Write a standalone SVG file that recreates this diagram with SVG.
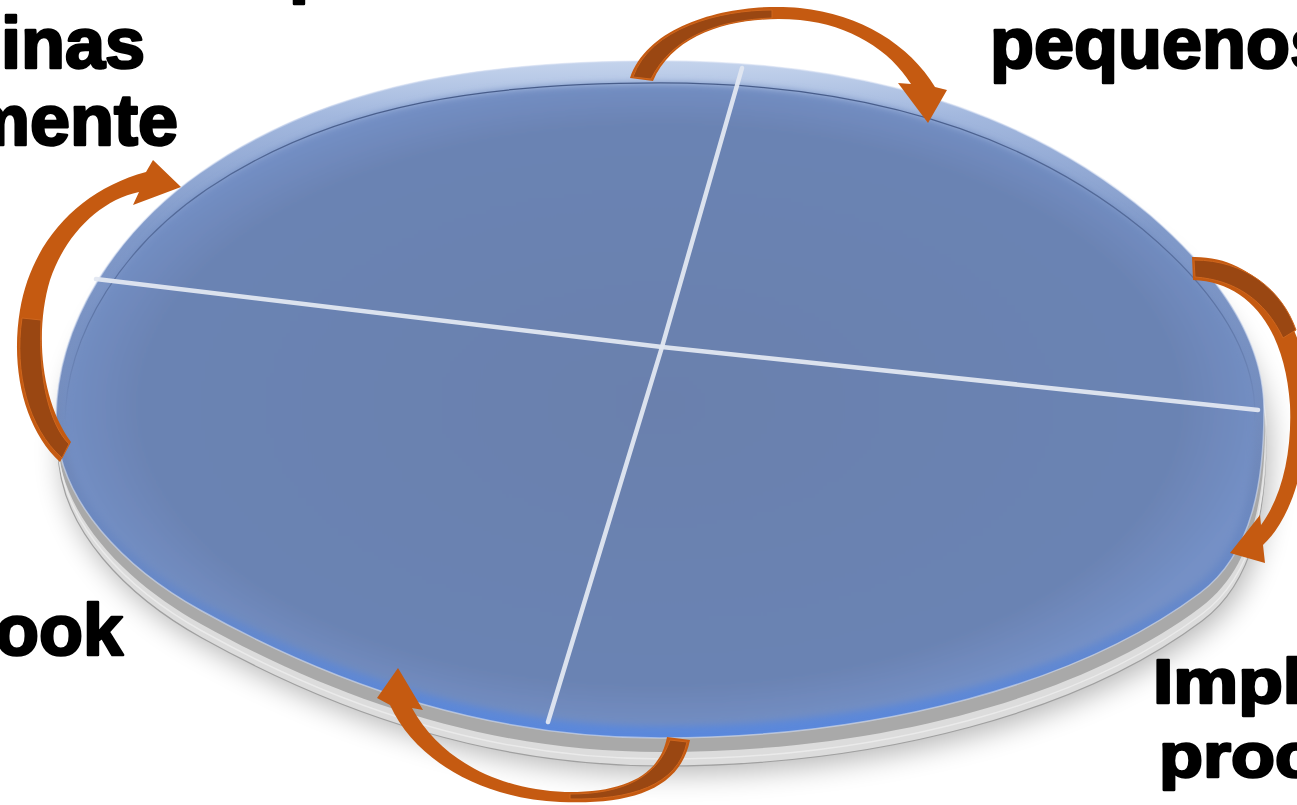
<svg xmlns="http://www.w3.org/2000/svg" width="1297" height="805" viewBox="0 0 1297 805">
<defs>
<style>
.lbl{font-family:"Liberation Sans",Arial,sans-serif;font-weight:bold;font-size:72px;fill:#000;stroke:#000;stroke-width:2.6px;stroke-linejoin:round}
.sm{font-size:63px}
.arr{fill:#c55a11}
.dark{fill:#9a4712;stroke:#cf661d;stroke-width:1}
.cross{fill:none;stroke:#e1e7f1;stroke-width:4.5;stroke-linecap:round;stroke-linejoin:round;opacity:.95}
</style>
<path id="disk" d="M660,61 C838,61 1014,100 1150,215 C1209,266 1264,332 1264,410 C1264,477 1254,553 1200,593 C1080,683 880,738 660,738 C495,738 344,690 200,610 C128,570 56,502 56,420 C56,321 119,230 200,173 C334,79 496,61 660,61 Z"/>
<clipPath id="clipDisk"><use href="#disk"/></clipPath>
<linearGradient id="edgeG" gradientUnits="userSpaceOnUse" x1="0" y1="61" x2="0" y2="740">
<stop offset="0" stop-color="#c4d3ec"/>
<stop offset="0.08" stop-color="#a3b8de"/>
<stop offset="0.25" stop-color="#8099c9"/>
<stop offset="0.6" stop-color="#6f88ba"/>
<stop offset="1" stop-color="#5a88dc"/>
</linearGradient>
<radialGradient id="topG" gradientUnits="userSpaceOnUse" cx="660" cy="400" r="620" gradientTransform="translate(660 400) scale(1 0.56) translate(-660 -400)">
<stop offset="0" stop-color="#6a80ad"/>
<stop offset="0.85" stop-color="#6b83b3"/>
<stop offset="1" stop-color="#7490c6"/>
</radialGradient>
<linearGradient id="lineG" gradientUnits="userSpaceOnUse" x1="0" y1="70" x2="0" y2="420">
<stop offset="0" stop-color="#3f5482" stop-opacity="0.9"/>
<stop offset="0.6" stop-color="#3f5482" stop-opacity="0.5"/>
<stop offset="1" stop-color="#3f5482" stop-opacity="0"/>
</linearGradient>
<filter id="blurS" x="-20%" y="-20%" width="140%" height="140%"><feGaussianBlur stdDeviation="14"/></filter>
<filter id="blurI" x="-5%" y="-5%" width="110%" height="110%"><feGaussianBlur stdDeviation="4"/></filter>
</defs>
<rect width="1297" height="805" fill="#ffffff"/>
<g id="labels">
<text class="lbl" x="289" y="-11">p</text>
<text class="lbl" x="145" y="68" text-anchor="end">inas</text>
<text class="lbl" x="178" y="145" text-anchor="end">mente</text>
<text class="lbl" x="990" y="68">pequenos</text>
<text class="lbl" x="123" y="655" text-anchor="end">ook</text>
<text class="lbl sm" x="1153" y="703" textLength="150" lengthAdjust="spacingAndGlyphs">Impl</text>
<text class="lbl sm" x="1159" y="777" textLength="156" lengthAdjust="spacingAndGlyphs">proc</text>
</g>
<g id="plate">
<use href="#disk" transform="translate(6,36)" fill="#000" opacity="0.28" filter="url(#blurS)"/>
<use href="#disk" transform="translate(2,28)" fill="#dcdcdc" stroke="#a0a0a0" stroke-width="1.2"/>
<use href="#disk" transform="translate(1,14)" fill="#a9a9a9"/>
<use href="#disk" transform="translate(2,21)" fill="none" stroke="#efefef" stroke-width="1.5" opacity="0.7"/>
<use href="#disk" fill="url(#edgeG)"/>
<g clip-path="url(#clipDisk)">
<use href="#disk" transform="translate(660 405) scale(0.985 0.95) translate(-660 -400)" fill="url(#topG)" filter="url(#blurI)"/>
<use href="#disk" transform="translate(660 405) scale(0.985 0.95) translate(-660 -400)" fill="none" stroke="url(#lineG)" stroke-width="1.3"/>
</g>
<use href="#disk" fill="none" stroke="#d3def2" stroke-width="1.5" opacity="0.6"/>
</g>
<g id="cross">
<polyline class="cross" points="96,279 662,347 1258,410"/>
<polyline class="cross" points="742,68 662,347 548,722"/>
</g>
<g id="connectors">
<g id="arrow-top">
<path class="arr" d="M630,78 C650,20 740,2 800,8 C860,14 910,45 935,87 L947,90 L928,123 L898,83 L911,84 C890,50 850,25 800,20 C740,15 675,30 653,81 Z"/>
<path class="dark" d="M633,77 C650,28 720,10 772,10 L772,18 C720,20 672,36 651,79 Z"/>
</g>
<g id="arrow-right">
<path class="arr" d="M1192,257 C1260,255 1310,320 1308,410 C1306,470 1290,520 1263,545 L1265,563 L1230,553 L1260,515 L1261,525 C1283,495 1292,450 1290,405 C1285,330 1250,282 1193,280 Z"/>
<path class="dark" d="M1194,260 C1245,260 1282,290 1296,330 L1283,338 C1265,300 1235,280 1195,277 Z"/>
</g>
<g id="arrow-bottom">
<path class="arr" d="M690,740 C680,790 630,805 560,802 C480,798 415,760 390,705 L377,698 L398,668 L423,710 L412,708 C440,760 500,790 565,792 C625,793 660,775 667,737 Z"/>
<path class="dark" d="M687,742 C678,786 630,800 570,799 L570,794 C625,794 658,776 670,740 Z"/>
</g>
<g id="arrow-left">
<path class="arr" d="M60,462 C25,430 10,370 20,310 C32,240 80,190 146,172 L153,160 L181,187 L133,205 L139,192 C100,200 65,235 50,280 C35,330 40,400 71,442 Z"/>
<path class="dark" d="M62,458 C28,428 14,372 22,318 L41,320 C38,380 50,425 69,444 Z"/>
</g>
</g>
</svg>
